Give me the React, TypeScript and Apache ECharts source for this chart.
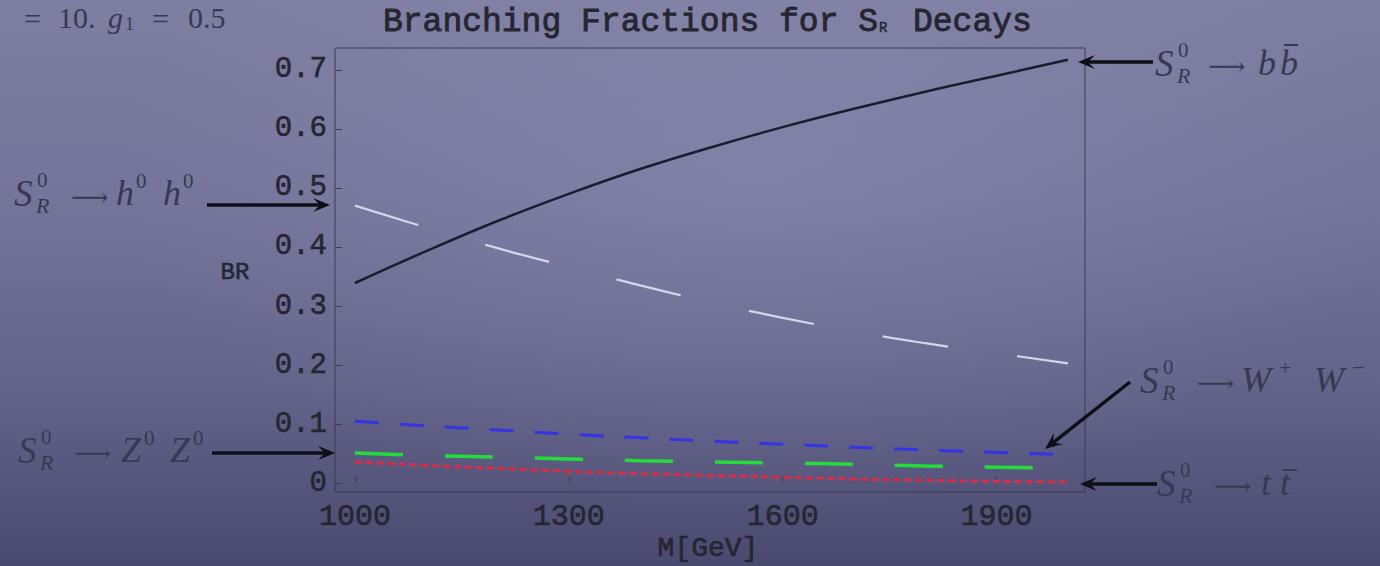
import React, { useEffect, useRef } from "react";
import * as echarts from "echarts";

// ---------- data ----------
const masses = [1000, 1100, 1200, 1300, 1400, 1500, 1600, 1700, 1800, 1900, 2000];
const brBB = [0.339, 0.393, 0.444, 0.49, 0.532, 0.569, 0.603, 0.634, 0.663, 0.69, 0.717];
const brHH = [0.47, 0.433, 0.398, 0.366, 0.335, 0.306, 0.28, 0.257, 0.237, 0.22, 0.203];
const brWW = [0.105, 0.097, 0.09, 0.083, 0.077, 0.071, 0.066, 0.061, 0.056, 0.052, 0.048];
const brZZ = [0.051, 0.047, 0.044, 0.041, 0.038, 0.036, 0.034, 0.032, 0.029, 0.027, 0.025];
const brTT = [0.036, 0.03, 0.025, 0.02, 0.016, 0.013, 0.01, 0.007, 0.005, 0.003, 0.002];
const xTicks = [1000, 1300, 1600, 1900];
const yTicks = [0, 0.1, 0.2, 0.3, 0.4, 0.5, 0.6, 0.7];

const MONO = '"Liberation Mono", "DejaVu Sans Mono", monospace';
const SERIF = '"Liberation Serif", "DejaVu Serif", serif';
const TEXT_DARK = "#262632";
const MATH = "#383852";

const pair = (vals: number[]) => masses.map((m, i) => [m, vals[i]]);

function txt(x: number, y: number, text: string, size: number, opts: any = {}) {
  const fill = opts.fill || MATH;
  return {
    type: "text",
    x,
    y,
    silent: true,
    style: {
      text,
      fontSize: size,
      fontFamily: opts.family || SERIF,
      fontStyle: opts.italic ? "italic" : "normal",
      fontWeight: opts.weight || "normal",
      fill,
      stroke: opts.heavy ? fill : undefined,
      lineWidth: opts.heavy ? opts.heavy : 0,
      align: opts.align || "left",
      textAlign: opts.align || "left",
      verticalAlign: "middle",
      textVerticalAlign: "middle",
    },
  };
}

function arrow(x1: number, y1: number, x2: number, y2: number) {
  const dx = x2 - x1, dy = y2 - y1;
  const L = Math.sqrt(dx * dx + dy * dy);
  const ux = dx / L, uy = dy / L;
  const hl = 17, hw = 7;
  const bx = x2 - ux * hl, by = y2 - uy * hl;
  const nx = -uy, ny = ux;
  return [
    {
      type: "line",
      silent: true,
      shape: { x1, y1, x2: x2 - ux * 8, y2: y2 - uy * 8 },
      style: { stroke: "#0e0e16", lineWidth: 3.5 },
    },
    {
      type: "polygon",
      silent: true,
      shape: {
        points: [
          [x2, y2],
          [bx + nx * hw, by + ny * hw],
          [x2 - ux * 10, y2 - uy * 10],
          [bx - nx * hw, by - ny * hw],
        ],
      },
      style: { fill: "#0e0e16" },
    },
  ];
}

function sR(x: number, cy: number) {
  return [
    txt(x, cy, "S", 37, { italic: true }),
    txt(x + 23, cy - 13, "0", 21),
    txt(x + 22, cy + 12, "R", 22, { italic: true }),
  ];
}

function to(x: number, cy: number) {
  return txt(x, cy, "⟶", 26, { family: '"DejaVu Serif", "DejaVu Sans", serif' });
}

export default function App() {
  const ref = useRef<HTMLDivElement>(null);

  useEffect(() => {
    const chart = echarts.init(ref.current!, null, { renderer: "svg" });
    const graphic: any[] = [
      // partial caption top-left
      txt(24, 18, "=", 30),
      txt(58, 17, "10.", 30),
      txt(108, 17, "g", 30, { italic: true }),
      txt(125, 24, "1", 18),
      txt(152, 18, "=", 30),
      txt(188, 17, "0.5", 30),
      // title
      txt(383, 22, "Branching Fractions for S", 33, { family: MONO, fill: TEXT_DARK, heavy: 0.9 }),
      txt(879, 28, "R", 14, { family: MONO, fill: TEXT_DARK, heavy: 0.5 }),
      txt(913, 22, "Decays", 33, { family: MONO, fill: TEXT_DARK, heavy: 0.9 }),
      // axis names
      txt(235, 272, "BR", 24, { family: MONO, fill: TEXT_DARK, align: "center", heavy: 0.6 }),
      txt(708, 548, "M[GeV]", 28, { family: MONO, fill: TEXT_DARK, align: "center", heavy: 0.7 }),
      // S -> b bbar
      ...sR(1155, 63),
      to(1208, 66),
      txt(1258, 63, "b", 36, { italic: true }),
      txt(1280, 63, "b", 36, { italic: true }),
      { type: "line", silent: true, shape: { x1: 1284, y1: 45, x2: 1298, y2: 45 }, style: { stroke: MATH, lineWidth: 2 } },
      ...arrow(1153, 62, 1078, 62),
      // S -> h h
      ...sR(14, 193),
      to(71, 197),
      txt(116, 193, "h", 36, { italic: true }),
      txt(136, 181, "0", 21),
      txt(163, 193, "h", 36, { italic: true }),
      txt(183, 181, "0", 21),
      ...arrow(207, 205, 330, 205),
      // S -> Z Z
      ...sR(18, 450),
      to(74, 453),
      txt(121, 450, "Z", 36, { italic: true }),
      txt(144, 438, "0", 21),
      txt(170, 450, "Z", 36, { italic: true }),
      txt(193, 438, "0", 21),
      ...arrow(212, 453, 335, 453),
      // S -> W W
      ...sR(1140, 380),
      to(1197, 383),
      txt(1241, 380, "W", 36, { italic: true }),
      txt(1279, 367, "+", 22),
      txt(1314, 380, "W", 36, { italic: true }),
      txt(1352, 367, "−", 22),
      ...arrow(1130, 382, 1045, 449),
      // S -> t tbar
      ...sR(1157, 483),
      to(1214, 486),
      txt(1261, 483, "t", 36, { italic: true }),
      txt(1280, 483, "t", 36, { italic: true }),
      { type: "line", silent: true, shape: { x1: 1283, y1: 470, x2: 1297, y2: 470 }, style: { stroke: MATH, lineWidth: 2 } },
      ...arrow(1157, 484, 1080, 484),
    ];

    const labelStyle = {
      fontFamily: MONO,
      color: TEXT_DARK,
      textBorderColor: TEXT_DARK,
      textBorderWidth: 0.6,
    };

    chart.setOption({
      animation: false,
      backgroundColor: "transparent",
      grid: {
        left: 335,
        right: 295,
        top: 48,
        bottom: 74,
        show: true,
        borderColor: "#3c3c52",
        borderWidth: 1,
        backgroundColor: "transparent",
      },
      xAxis: {
        type: "value",
        min: 972,
        max: 2024,
        splitLine: { show: false },
        axisLine: { show: false },
        axisTick: { show: true, inside: true, length: 7, customValues: xTicks, lineStyle: { color: "#3c3c52" } },
        axisLabel: {
          ...labelStyle,
          customValues: xTicks,
          margin: 10,
          fontSize: 30,
          formatter: (v: number) => String(v),
        },
      },
      yAxis: {
        type: "value",
        min: -0.015,
        max: 0.737,
        splitLine: { show: false },
        axisLine: { show: false },
        axisTick: { show: true, inside: true, length: 7, customValues: yTicks, lineStyle: { color: "#3c3c52" } },
        axisLabel: {
          ...labelStyle,
          customValues: yTicks,
          margin: 8,
          fontSize: 29,
          formatter: (v: number) => (v === 0 ? "0" : v.toFixed(1)),
        },
      },
      series: [
        {
          name: "S→bb",
          type: "line",
          data: pair(brBB),
          smooth: 0.4,
          symbol: "none",
          lineStyle: { color: "#1c1c2e", width: 2.5 },
        },
        {
          name: "S→hh",
          type: "line",
          data: pair(brHH),
          smooth: 0.4,
          symbol: "none",
          lineStyle: { color: "#d6d6ea", width: 2.2, type: [66, 70] },
        },
        {
          name: "S→WW",
          type: "line",
          data: pair(brWW),
          smooth: 0.4,
          symbol: "none",
          lineStyle: { color: "#3434e6", width: 3, type: [24, 21] },
        },
        {
          name: "S→ZZ",
          type: "line",
          data: pair(brZZ),
          smooth: 0.4,
          symbol: "none",
          lineStyle: { color: "#24dc3a", width: 3.5, type: [48, 42] },
        },
        {
          name: "S→tt",
          type: "line",
          data: pair(brTT),
          smooth: 0.4,
          symbol: "none",
          lineStyle: { color: "#dc2c48", width: 3, type: [7, 4] },
        },
      ],
      graphic,
    });
    return () => chart.dispose();
  }, []);

  return (
    <div
      ref={ref}
      style={{
        position: "fixed",
        left: 0,
        top: 0,
        width: 1380,
        height: 566,
        background:
          "radial-gradient(ellipse at 55% 30%, rgba(150,150,190,0.35) 0%, rgba(150,150,190,0) 60%), linear-gradient(180deg, #7e7ea2 0%, #75759b 35%, #64648b 68%, #4a4a70 100%)",
      }}
    />
  );
}
